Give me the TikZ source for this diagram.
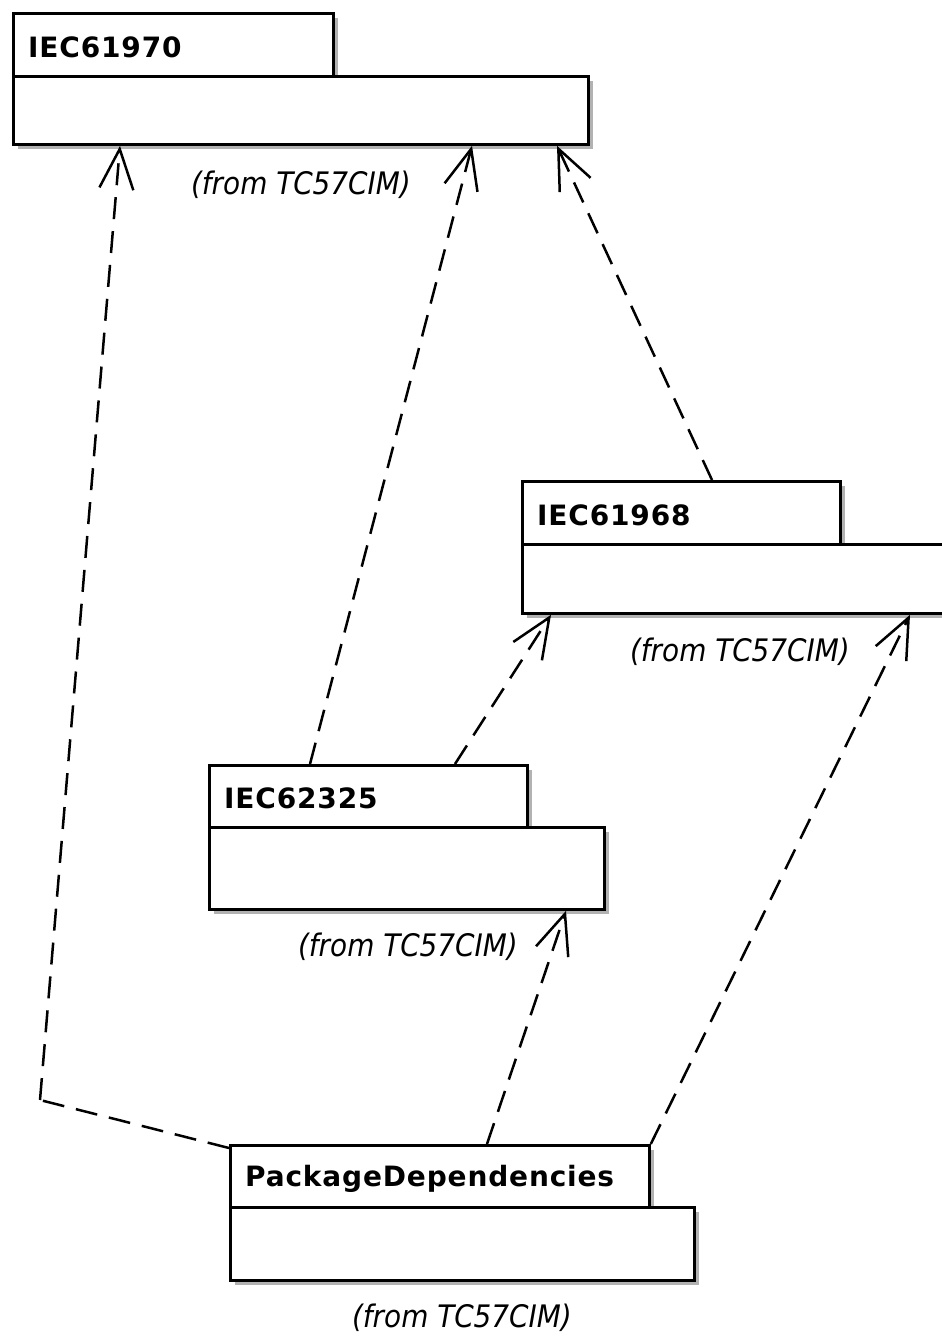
\documentclass[tikz,border=0pt]{standalone}
\usepackage{fontspec}
\setmainfont{DejaVu Sans}
\newfontfamily\namefont[LetterSpace=3]{DejaVu Sans Bold}
\newfontfamily\fromfont{DejaVu Sans Condensed Oblique}
\usetikzlibrary{arrows.meta,shadows,calc}
\begin{document}
\begin{tikzpicture}[x=1pt,y=-1pt,
  pkgpart/.style={draw=black, line width=2.8pt, fill=white, rectangle, inner sep=0pt, anchor=north west,
     drop shadow={shadow xshift=5pt, shadow yshift=-5pt, fill=black!30, opacity=1}},
  pkgname/.style={anchor=west, inner sep=0pt, font=\namefont\fontsize{28}{33}\selectfont},
  fromlbl/.style={inner sep=0pt, font=\fromfont\fontsize{31}{36}\selectfont},
  dep/.style={line width=2.5pt, dash pattern=on 22pt off 12pt, -{Straight Barb[length=40pt,width=34pt,line width=2.5pt]}},
  deplink/.style={line width=2.5pt, dash pattern=on 22pt off 12pt}]
\useasboundingbox (0,0) rectangle (942,1336);
\fill[white] (0,0) rectangle (942,1336);
% IEC61970
\node[pkgpart, minimum width=320pt, minimum height=63pt] (t1) at (12,12) {};
\node[pkgpart, minimum width=575pt, minimum height=68pt] (b1) at (12,75) {};
\node[pkgname] (n1) at ($(t1.west)+(16,2)$) {IEC61970};
\node[fromlbl] (f1) at (301,185) {(from TC57CIM)};
% IEC61968
\node[pkgpart, minimum width=318pt, minimum height=63pt] (t2) at (521,480) {};
\node[pkgpart, minimum width=440pt, minimum height=69pt] (b2) at (521,543) {};
\node[pkgname] (n2) at ($(t2.west)+(16,2)$) {IEC61968};
\node[fromlbl] (f2) at (740,652) {(from TC57CIM)};
% IEC62325
\node[pkgpart, minimum width=318pt, minimum height=62pt] (t3) at (208,764) {};
\node[pkgpart, minimum width=395pt, minimum height=82pt] (b3) at (208,826) {};
\node[pkgname] (n3) at ($(t3.west)+(16,2)$) {IEC62325};
\node[fromlbl] (f3) at (408,947) {(from TC57CIM)};
% PackageDependencies
\node[pkgpart, minimum width=419pt, minimum height=62pt] (t4) at (229,1144) {};
\node[pkgpart, minimum width=464pt, minimum height=73pt] (b4) at (229,1206) {};
\node[pkgname] (n4) at ($(t4.west)+(16,2)$) {PackageDependencies};
\node[fromlbl] (f4) at (462,1318) {(from TC57CIM)};
% dependencies
\coordinate (k1) at (40,1100);
\draw[deplink] ($(t4.north west)+(0,4)$) -- (k1);
\draw[dep] (k1) -- ($(b1.south west)+(108,0)$);
\draw[dep] ($(t3.north west)+(102,0)$) -- ($(b1.south west)+(460,0)$);
\draw[dep] ($(t2.north west)+(191,0)$) -- ($(b1.south west)+(545,0)$);
\draw[dep] ($(t3.north west)+(247,0)$) -- ($(b2.south west)+(30,0)$);
\draw[dep] ($(t4.north west)+(258,0)$) -- ($(b3.south west)+(358,0)$);
\draw[dep] (t4.north east) -- ($(b2.south west)+(389,0)$);
\end{tikzpicture}
\end{document}
